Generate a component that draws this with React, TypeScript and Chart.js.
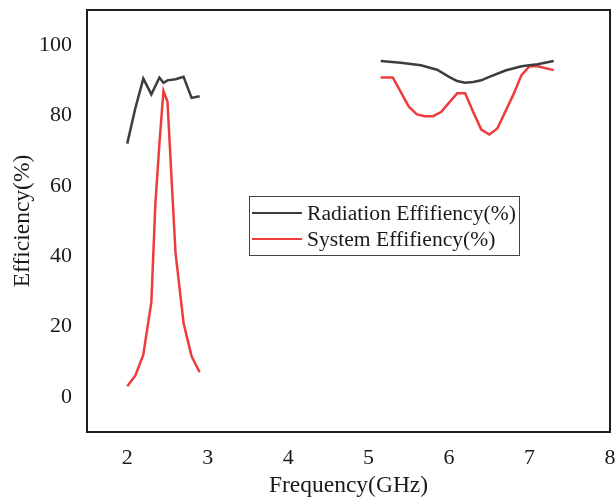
import React, { useEffect, useRef } from "react";
import { Chart, registerables } from "chart.js";

Chart.register(...registerables);

// Radiation efficiency, low band and high band
const radLowFreq = [2.0, 2.1, 2.2, 2.3, 2.4, 2.45, 2.5, 2.6, 2.7, 2.8, 2.9];
const radLowEff = [72, 82, 90.5, 86, 90.8, 89.3, 90, 90.3, 91, 85, 85.5];
const radHighFreq = [5.15, 5.4, 5.65, 5.85, 6.0, 6.1, 6.2, 6.3, 6.4, 6.5, 6.7, 6.9, 7.1, 7.3];
const radHighEff = [95.5, 95, 94.3, 93, 91, 89.8, 89.3, 89.5, 90, 91, 92.8, 94, 94.6, 95.5];

// System efficiency, low band and high band
const sysLowFreq = [2.0, 2.1, 2.2, 2.3, 2.35, 2.4, 2.45, 2.5, 2.6, 2.7, 2.8, 2.9];
const sysLowEff = [3, 6, 12, 27, 55, 72, 87, 84, 41, 21, 11.5, 7];
const sysHighFreq = [5.15, 5.3, 5.5, 5.6, 5.7, 5.8, 5.9, 6.1, 6.2, 6.3, 6.4, 6.5, 6.6, 6.8, 6.9, 7.0, 7.1, 7.3];
const sysHighEff = [90.8, 90.8, 82.5, 80.3, 79.8, 79.8, 81, 86.3, 86.3, 81, 76, 74.6, 76.3, 86, 91.5, 94, 94, 92.9];

const xTicks = [2, 3, 4, 5, 6, 7, 8];
const yTicks = [0, 20, 40, 60, 80, 100];

const seriesLabels = ["Radiation Effifiency(%)", "System Effifiency(%)"];
const seriesColors = ["#3d3d3d", "#ee3b3b"];

const FONT = "'Liberation Serif', 'Times New Roman', serif";

function toPoints(lowX: number[], lowY: number[], highX: number[], highY: number[]) {
  const pts: { x: number; y: number | null }[] = [];
  lowX.forEach((x, i) => pts.push({ x, y: lowY[i] }));
  pts.push({ x: (lowX[lowX.length - 1] + highX[0]) / 2, y: null });
  highX.forEach((x, i) => pts.push({ x, y: highY[i] }));
  return pts;
}

const framePlugin = {
  id: "frameAndLegend",
  afterDraw(chart: any) {
    const { ctx, chartArea } = chart;
    ctx.save();
    ctx.strokeStyle = "#1e1e1e";
    ctx.lineWidth = 2;
    ctx.strokeRect(chartArea.left, chartArea.top, chartArea.right - chartArea.left, chartArea.bottom - chartArea.top);

    // legend box
    ctx.lineWidth = 1;
    ctx.strokeStyle = "#444";
    ctx.strokeRect(249.5, 196.5, 270, 59);
    const rows = [213, 239];
    chart.data.datasets.forEach((ds: any, i: number) => {
      ctx.strokeStyle = ds.borderColor;
      ctx.lineWidth = 2;
      ctx.beginPath();
      ctx.moveTo(252, rows[i]);
      ctx.lineTo(302, rows[i]);
      ctx.stroke();
      ctx.fillStyle = "#1a1a1a";
      ctx.font = `21.6px ${FONT}`;
      ctx.textBaseline = "middle";
      ctx.textAlign = "left";
      ctx.fillText(ds.label, 307, rows[i] + 1);
    });
    ctx.restore();
  },
};

export default function App() {
  const ref = useRef<HTMLCanvasElement>(null);
  useEffect(() => {
    if (!ref.current) return;
    const chart = new Chart(ref.current, {
      type: "line",
      data: {
        datasets: [
          {
            label: seriesLabels[0],
            data: toPoints(radLowFreq, radLowEff, radHighFreq, radHighEff),
            borderColor: seriesColors[0],
            backgroundColor: seriesColors[0],
            borderWidth: 2.5,
            pointRadius: 0,
            tension: 0,
            spanGaps: false,
          },
          {
            label: seriesLabels[1],
            data: toPoints(sysLowFreq, sysLowEff, sysHighFreq, sysHighEff),
            borderColor: seriesColors[1],
            backgroundColor: seriesColors[1],
            borderWidth: 2.5,
            pointRadius: 0,
            tension: 0,
            spanGaps: false,
          },
        ],
      },
      options: {
        animation: false,
        responsive: true,
        maintainAspectRatio: false,
        layout: { padding: { top: 10, right: 6, left: 0, bottom: 0 } },
        plugins: {
          legend: { display: false },
          tooltip: { enabled: false },
        },
        scales: {
          x: {
            type: "linear",
            min: 1.5,
            max: 8,
            grid: { display: false, drawTicks: false },
            border: { display: false },
            afterBuildTicks: (s: any) => {
              s.ticks = xTicks.map((v) => ({ value: v }));
            },
            afterFit: (s: any) => {
              s.height = 67;
              s.paddingLeft = 0;
              s.paddingRight = 0;
            },
            ticks: {
              padding: 13,
              color: "#1a1a1a",
              font: { family: FONT, size: 22 },
              maxRotation: 0,
              autoSkip: false,
            },
            title: {
              display: true,
              text: "Frequency(GHz)",
              color: "#1a1a1a",
              font: { family: FONT, size: 23.5 },
              padding: { top: 0, bottom: -1 },
            },
          },
          y: {
            type: "linear",
            min: -10,
            max: 110,
            grid: { display: false, drawTicks: false },
            border: { display: false },
            afterBuildTicks: (s: any) => {
              s.ticks = yTicks.map((v) => ({ value: v }));
            },
            afterFit: (s: any) => {
              s.width = 87;
              s.paddingTop = 0;
              s.paddingBottom = 0;
            },
            ticks: {
              padding: 15,
              color: "#1a1a1a",
              font: { family: FONT, size: 22 },
            },
            title: {
              display: true,
              text: "Efficiency(%)",
              color: "#1a1a1a",
              font: { family: FONT, size: 23.5 },
              padding: { top: 9, bottom: 0 },
            },
          },
        },
      },
      plugins: [framePlugin],
    });
    return () => chart.destroy();
  }, []);
  return (
    <div style={{ position: "absolute", left: 0, top: 0, width: 616, height: 499 }}>
      <canvas ref={ref} />
    </div>
  );
}
